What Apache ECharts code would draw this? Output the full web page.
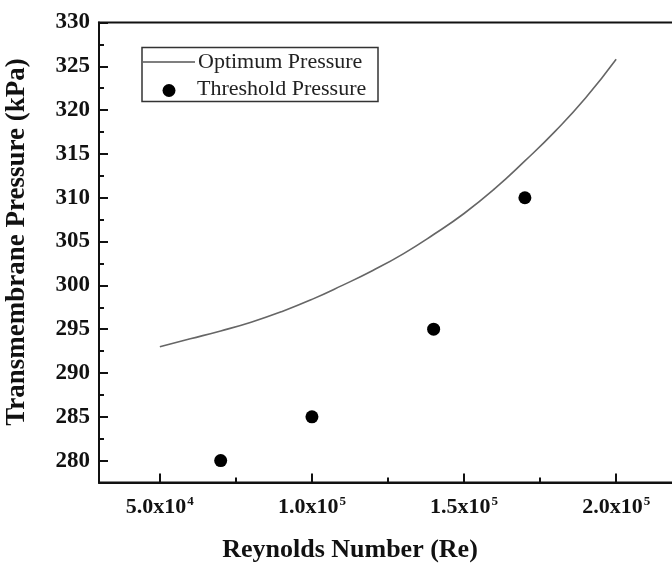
<!DOCTYPE html>
<html>
<head>
<meta charset="utf-8">
<script src="https://cdn.jsdelivr.net/npm/echarts@6/dist/echarts.min.js"></script>
<style>html,body{margin:0;padding:0;background:#fff;}#c{width:672px;height:566px;}</style>
</head>
<body>
<div id="c"></div>
<script>
// ---- data ----
var optimumRe = [50000, 60000, 70000, 80000, 90000, 100000, 110000, 120000, 130000, 140000, 150000, 160000, 170000, 180000, 190000, 200000];
var optimumP  = [293.0, 293.9, 294.8, 295.8, 297.0, 298.4, 300.0, 301.7, 303.6, 305.8, 308.2, 311.0, 314.2, 317.6, 321.4, 325.8];
var thresholdRe = [70000, 100000, 140000, 170000];
var thresholdP  = [280, 285, 295, 310];
var xTickValues = [50000, 100000, 150000, 200000];
var xTickMantissa = ['5.0', '1.0', '1.5', '2.0'];
var xTickExponent = ['4', '5', '5', '5'];
var xMinorTicks = [75000, 125000, 175000];
var yTickValues = [280, 285, 290, 295, 300, 305, 310, 315, 320, 325, 330];
var yMinorTicks = [282.5, 287.5, 292.5, 297.5, 302.5, 307.5, 312.5, 317.5, 322.5, 327.5];
var xTitle = 'Reynolds Number (Re)';
var yTitle = 'Transmembrane Pressure (kPa)';
var seriesNames = ['Optimum Pressure', 'Threshold Pressure'];

var FONT = '"Liberation Serif", "Times New Roman", serif';
var chart = echarts.init(document.getElementById('c'));

function pairs(xs, ys) { return xs.map(function (x, i) { return [x, ys[i]]; }); }

var axisCommon = {
  type: 'value',
  splitLine: { show: false },
  axisLine: { show: true, onZero: false, lineStyle: { color: '#111', width: 2 } }
};

var option = {
  animation: false,
  backgroundColor: '#fff',
  grid: { left: 99, top: 22.5, width: 578, bottom: 83.5, containLabel: false, outerBoundsMode: 'none', show: true, borderColor: '#111', borderWidth: 2, backgroundColor: 'transparent' },
  xAxis: [
    Object.assign({}, axisCommon, {
      min: 30000, max: 220000, position: 'bottom',
      axisTick: { show: true, inside: true, length: 9, lineStyle: { color: '#111', width: 2 }, customValues: xTickValues },
      axisLabel: {
        show: true, margin: 13, customValues: xTickValues,
        formatter: function (v) {
          var i = xTickValues.indexOf(v);
          if (i < 0) return '';
          return '{b|' + xTickMantissa[i] + 'x10}{s|' + xTickExponent[i] + '}';
        },
        rich: {
          b: { fontFamily: FONT, fontWeight: 'bold', fontSize: 22, color: '#111', lineHeight: 24 },
          s: { fontFamily: FONT, fontWeight: 'bold', fontSize: 13, color: '#111', lineHeight: 13, verticalAlign: 'top', padding: [0, 0, 14, 1] }
        }
      }
    }),
    Object.assign({}, axisCommon, {
      min: 30000, max: 220000, position: 'bottom',
      axisLine: { show: false },
      axisTick: { show: true, inside: true, length: 5, lineStyle: { color: '#111', width: 2 }, customValues: xMinorTicks },
      axisLabel: { show: false }
    })
  ],
  yAxis: [
    Object.assign({}, axisCommon, {
      min: 277.5, max: 330, position: 'left',
      axisTick: { show: true, inside: true, length: 9, lineStyle: { color: '#111', width: 2 }, customValues: yTickValues },
      axisLabel: {
        show: true, margin: 9, customValues: yTickValues,
        fontFamily: FONT, fontWeight: 'bold', fontSize: 23, color: '#111',
        formatter: function (v) { return String(v); }
      }
    }),
    Object.assign({}, axisCommon, {
      min: 277.5, max: 330, position: 'left',
      axisLine: { show: false },
      axisTick: { show: true, inside: true, length: 5, lineStyle: { color: '#111', width: 2 }, customValues: yMinorTicks },
      axisLabel: { show: false }
    })
  ],
  series: [
    {
      name: seriesNames[0], type: 'line', xAxisIndex: 0, yAxisIndex: 0,
      data: pairs(optimumRe, optimumP), smooth: true, symbol: 'none',
      lineStyle: { color: '#666', width: 1.6 }
    },
    {
      name: seriesNames[1], type: 'scatter', xAxisIndex: 0, yAxisIndex: 0,
      data: pairs(thresholdRe, thresholdP), symbol: 'circle', symbolSize: 13,
      itemStyle: { color: '#000', opacity: 1 }
    }
  ],
  graphic: [
    { type: 'text', x: 350, y: 550, style: { text: xTitle, font: 'bold 26px ' + FONT, fill: '#111', textAlign: 'center', textVerticalAlign: 'middle' } },
    { type: 'text', x: 17.5, y: 242, rotation: Math.PI / 2, style: { text: yTitle, font: 'bold 27px ' + FONT, fill: '#111', textAlign: 'center', textVerticalAlign: 'middle' } },
    { type: 'rect', shape: { x: 142, y: 47.5, width: 236, height: 54 }, style: { fill: '#fff', stroke: '#333', lineWidth: 1.5 }, z: 50 },
    { type: 'line', shape: { x1: 143, y1: 62, x2: 195, y2: 62 }, style: { stroke: '#555', lineWidth: 1.5 }, z: 51 },
    { type: 'text', x: 198, y: 62, style: { text: seriesNames[0], font: '22px ' + FONT, fill: '#222', textAlign: 'left', textVerticalAlign: 'middle' }, z: 51 },
    { type: 'circle', shape: { cx: 169, cy: 90.5, r: 6.5 }, style: { fill: '#000' }, z: 51 },
    { type: 'text', x: 197, y: 89.5, style: { text: seriesNames[1], font: '22px ' + FONT, fill: '#222', textAlign: 'left', textVerticalAlign: 'middle' }, z: 51 }
  ]
};
chart.setOption(option);
</script>
</body>
</html>
